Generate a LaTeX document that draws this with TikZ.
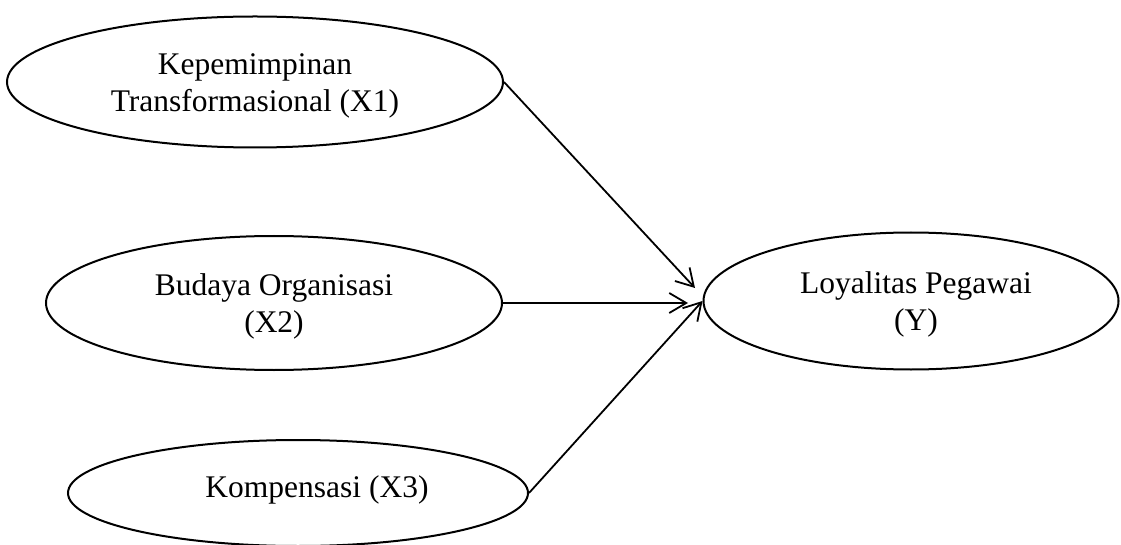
\documentclass[tikz,border=0pt]{standalone}
\usepackage{fontspec}
\setmainfont{Liberation Serif}
\usetikzlibrary{shapes.geometric,arrows.meta}
\begin{document}
\begin{tikzpicture}[x=1pt,y=-1pt,
  ell/.style={draw,ellipse,line width=2pt,inner sep=0pt},
  lbl/.style={align=center,inner sep=0pt,font=\fontsize{31.5}{37}\selectfont},
  conn/.style={line width=1.8pt,-{Straight Barb[length=17pt,width=20pt,line width=1.8pt]}}]
\useasboundingbox[fill=white] (0,0) rectangle (1121,545);
\node[ell,minimum width=496pt,minimum height=131pt] (x1) at (255,82) {};
\node[ell,minimum width=456pt,minimum height=134pt] (x2) at (274,303) {};
\node[ell,minimum width=460pt,minimum height=106pt] (x3) at (298,493) {};
\node[ell,minimum width=415pt,minimum height=137pt] (y) at (911,301) {};
\node[lbl] (tx1) at (255,86) {Kepemimpinan\\Transformasional (X1)};
\node[lbl] (tx2) at (274,306) {Budaya Organisasi\\(X2)};
\node[lbl] (tx3) at (317,490) {Kompensasi (X3)};
\node[lbl] (ty) at (916,304) {Loyalitas Pegawai\\(Y)};
\coordinate (t1) at (695,288);
\coordinate (t2) at (688,303);
\draw[conn] (x1.east) -- (t1);
\draw[conn] (x2.east) -- (t2);
\draw[conn] (x3.east) -- (y.west);
\end{tikzpicture}
\end{document}
